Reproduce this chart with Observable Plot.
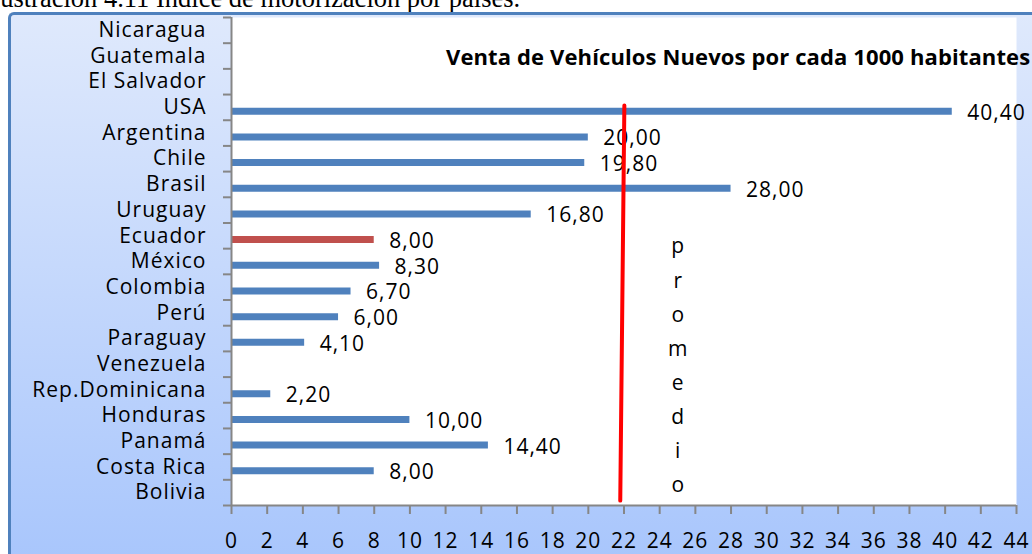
<!DOCTYPE html>
<html>
<head>
<meta charset="utf-8">
<script src="https://cdn.jsdelivr.net/npm/d3@7"></script>
<script src="https://cdn.jsdelivr.net/npm/@observablehq/plot@0.6"></script>
<style>
html,body{margin:0;padding:0;background:#fff;overflow:hidden}
#wrap{position:relative;width:1032px;height:554px;overflow:hidden;font-family:"Open Sans",sans-serif}
#caption{position:absolute;left:-16px;top:-15.2px;font-family:"Liberation Serif","Times New Roman",serif;font-size:26.5px;line-height:1;white-space:nowrap;color:#000}
#frame{position:absolute;left:8px;top:12px;width:1040px;height:560px;border-left:3px solid #4f81bd;border-top:3px solid #4f81bd;border-top-left-radius:6px;background:linear-gradient(#dfe9fc,#a7c5fc)}
#chart{position:absolute;left:0;top:0}
#chart svg text{letter-spacing:1px}
#title{position:absolute;left:446px;top:44.8px;font-family:"Open Sans",sans-serif;font-weight:700;font-size:22px;letter-spacing:0.12px;line-height:1;white-space:nowrap;color:#000}
</style>
</head>
<body>
<div id="wrap">
  <div id="caption">Ilustración 4.11 Índice de motorización por países.</div>
  <div id="frame"></div>
  <div id="chart"></div>
  <div id="title">Venta de Vehículos Nuevos por cada 1000 habitantes</div>
</div>
<script>
// ---- data ----
const countries = ["Nicaragua","Guatemala","El Salvador","USA","Argentina","Chile","Brasil","Uruguay","Ecuador","México","Colombia","Perú","Paraguay","Venezuela","Rep.Dominicana","Honduras","Panamá","Costa Rica","Bolivia"];
const values = [null,null,null,40.4,20.0,19.8,28.0,16.8,8.0,8.3,6.7,6.0,4.1,null,2.2,10.0,14.4,8.0,null];
const highlighted = ["Ecuador"];
const xTickValues = [0,2,4,6,8,10,12,14,16,18,20,22,24,26,28,30,32,34,36,38,40,42,44];
// hand-drawn "promedio" line (value, category position)
const promedioX = [22.02, 21.79];
const promedioRow = [2.93, 18.31];
const promedioLabel = ["promedio"];

// ---- build ----
const rows = countries.map((c, i) => ({country: c, i, value: values[i]}));
const bars = rows.filter(d => d.value != null);
const promedio = promedioX.map((x, k) => ({x, i: promedioRow[k]}));
const fmt = v => d3.format(".2f")(v).replace(".", ",");
const rowIdx = countries.map((c, i) => i);
const separators = countries.map((c, i) => i - 0.5).concat([countries.length - 0.5]);

const chart = Plot.plot({
  width: 1032,
  height: 554,
  marginLeft: 231,
  marginRight: 16,
  marginTop: 17,
  marginBottom: 49,
  style: {background: "transparent", fontFamily: "Open Sans", fontSize: "21px", color: "#000", overflow: "visible"},
  x: {domain: [0, 44], label: null},
  y: {domain: [countries.length - 0.5, -0.5], label: null},
  marks: [
    Plot.frame({fill: "white", stroke: null}),
    Plot.ruleY(bars, {
      y: "i", x1: 0, x2: "value",
      stroke: d => highlighted.includes(d.country) ? "#c0504d" : "#4f81bd",
      strokeWidth: 7, dy: 3.8
    }),
    Plot.text(bars, {
      y: "i", x: "value", text: d => fmt(d.value),
      textAnchor: "start", dx: 15, dy: 5.5, fill: "#000", fontSize: 21
    }),
    Plot.line(promedio, {x: "x", y: "i", stroke: "#ff0000", strokeWidth: 4}),
    Plot.text(promedioLabel, {
      x: () => 25.04, y: () => 12.9,
      text: d => d.split("").join("\n"),
      lineHeight: 1.62, fill: "#000", fontSize: 21
    }),
    Plot.ruleX([0], {stroke: "#868686", strokeWidth: 2}),
    Plot.ruleY([countries.length - 0.5], {stroke: "#868686", strokeWidth: 2}),
    Plot.axisY(separators, {anchor: "left", tickSize: 8, tickFormat: () => "", stroke: "#868686", strokeWidth: 2}),
    Plot.axisY(rowIdx, {anchor: "left", tickSize: 0, tickPadding: 25, tickFormat: i => countries[i], fill: "#000", fontSize: 21}),
    Plot.axisX(xTickValues, {anchor: "bottom", tickSize: 9, tickPadding: 19, stroke: "#868686", strokeWidth: 2, fill: "#000", fontSize: 21, tickFormat: d => String(d)})
  ]
});
document.getElementById("chart").appendChild(chart);
</script>
</body>
</html>
